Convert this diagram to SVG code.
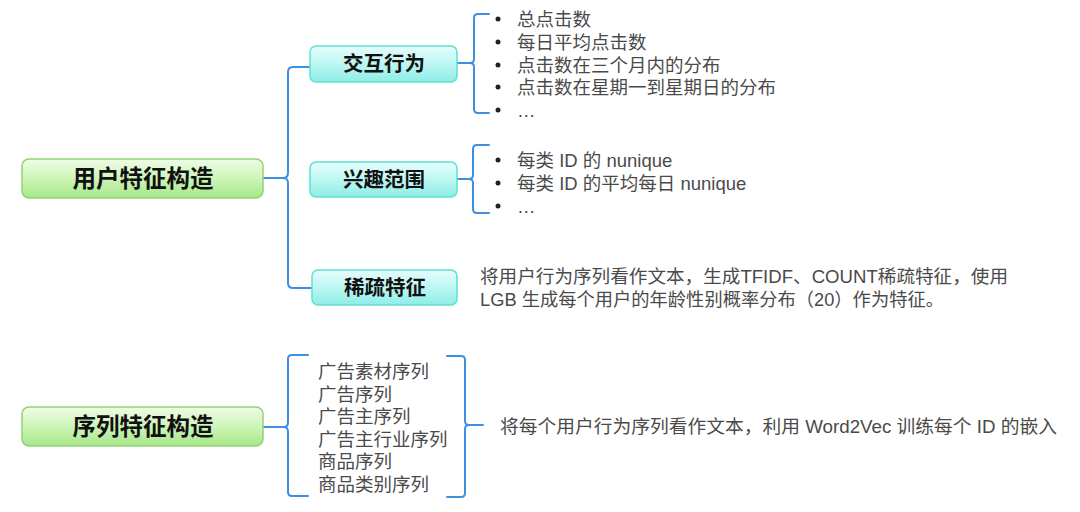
<svg xmlns="http://www.w3.org/2000/svg" width="1080" height="512" viewBox="0 0 1080 512">
<defs>
<linearGradient id="gGreen" x1="0" y1="0" x2="0" y2="1">
<stop offset="0" stop-color="#effde6"/>
<stop offset="0.5" stop-color="#cdf5b8"/>
<stop offset="1" stop-color="#a6e68a"/>
</linearGradient>
<linearGradient id="gCyan" x1="0" y1="0" x2="0" y2="1">
<stop offset="0" stop-color="#e6fdfc"/>
<stop offset="0.5" stop-color="#bdf7f3"/>
<stop offset="1" stop-color="#8ceee6"/>
</linearGradient>
</defs>
<style>
.root{fill:url(#gGreen);stroke:#92d274;stroke-width:1.5}
.branch{fill:url(#gCyan);stroke:#5fe0d2;stroke-width:1.5}
.rt{font-family:"Liberation Serif","Noto Sans CJK SC",serif;font-size:23.5px;font-weight:bold;fill:#111;text-anchor:middle;dominant-baseline:central}
.bt{font-family:"Liberation Serif","Noto Sans CJK SC",serif;font-size:20.5px;font-weight:bold;fill:#111;text-anchor:middle;dominant-baseline:central}
.tx{font-family:"Liberation Sans","Noto Sans CJK SC",sans-serif;font-size:18.5px;fill:#4a4a4a;dominant-baseline:central}
.ln{fill:none;stroke:#3d8fe4;stroke-width:2;stroke-linecap:round;stroke-linejoin:round}
.dot{fill:#222}
</style>
<g id="connectors">
<path class="ln" d="M263,178 H283"/>
<path class="ln" d="M310,67 H293 Q288,67 288,72 V173 Q288,178 283,178 Q288,178 288,183 V283 Q288,288 293,288 H312"/>
<path class="ln" d="M457,63 H471"/>
<path class="ln" d="M489,14 H478 Q474,14 474,18 V59 Q474,63 470,63 Q474,63 474,67 V109 Q474,113 478,113 H489"/>
<path class="ln" d="M457,179 H470"/>
<path class="ln" d="M489,145 H477 Q473,145 473,149 V175 Q473,179 469,179 Q473,179 473,183 V209 Q473,213 477,213 H489"/>
<path class="ln" d="M263,427 H284"/>
<path class="ln" d="M308,355 H292 Q288,355 288,359 V422 Q288,427 284,427 Q288,427 288,432 V492 Q288,496 292,496 H308"/>
<path class="ln" d="M447,356 H461 Q465,356 465,360 V421 Q465,425 469,425 Q465,425 465,429 V493 Q465,497 461,497 H447"/>
<path class="ln" d="M469,425 H483"/>
</g>
<g id="root1">
<rect class="root" x="22" y="159" width="241" height="39" rx="7"/>
<text class="rt" x="143" y="178.5">用户特征构造</text>
</g>
<g id="branch-interact">
<rect class="branch" x="310" y="46" width="147" height="36" rx="6"/>
<text class="bt" x="384" y="64">交互行为</text>
</g>
<g id="list-interact">
<circle class="dot" cx="498" cy="19" r="2.5"/>
<circle class="dot" cx="498" cy="42" r="2.5"/>
<circle class="dot" cx="498" cy="65" r="2.5"/>
<circle class="dot" cx="498" cy="87" r="2.5"/>
<circle class="dot" cx="498" cy="110" r="2.5"/>
<text class="tx" x="517" y="19">总点击数</text>
<text class="tx" x="517" y="42">每日平均点击数</text>
<text class="tx" x="517" y="65">点击数在三个月内的分布</text>
<text class="tx" x="517" y="87">点击数在星期一到星期日的分布</text>
<text class="tx" x="517" y="110">…</text>
</g>
<g id="branch-interest">
<rect class="branch" x="310" y="162" width="147" height="35" rx="6"/>
<text class="bt" x="384" y="180">兴趣范围</text>
</g>
<g id="list-interest">
<circle class="dot" cx="498" cy="160" r="2.5"/>
<circle class="dot" cx="498" cy="183" r="2.5"/>
<circle class="dot" cx="498" cy="206" r="2.5"/>
<text class="tx" x="517" y="160">每类 ID 的 nunique</text>
<text class="tx" x="517" y="183">每类 ID 的平均每日 nunique</text>
<text class="tx" x="517" y="206">…</text>
</g>
<g id="branch-sparse">
<rect class="branch" x="312" y="270" width="145" height="35" rx="6"/>
<text class="bt" x="385" y="288">稀疏特征</text>
</g>
<g id="text-sparse">
<text class="tx" x="480" y="276" textLength="528" lengthAdjust="spacingAndGlyphs">将用户行为序列看作文本，生成TFIDF、COUNT稀疏特征，使用</text>
<text class="tx" x="480" y="299" textLength="464" lengthAdjust="spacingAndGlyphs">LGB 生成每个用户的年龄性别概率分布（20）作为特征。</text>
</g>
<g id="root2">
<rect class="root" x="22" y="407" width="241" height="39" rx="7"/>
<text class="rt" x="143" y="426.5">序列特征构造</text>
</g>
<g id="list-seq">
<text class="tx" x="318" y="371">广告素材序列</text>
<text class="tx" x="318" y="394">广告序列</text>
<text class="tx" x="318" y="416">广告主序列</text>
<text class="tx" x="318" y="439">广告主行业序列</text>
<text class="tx" x="318" y="461">商品序列</text>
<text class="tx" x="318" y="484">商品类别序列</text>
</g>
<g id="text-seq">
<text class="tx" x="500" y="426" textLength="557" lengthAdjust="spacingAndGlyphs">将每个用户行为序列看作文本，利用 Word2Vec 训练每个 ID 的嵌入</text>
</g>
</svg>
